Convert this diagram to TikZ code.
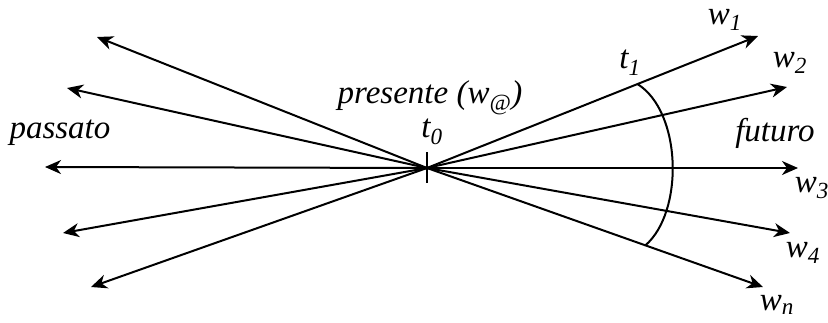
\documentclass[tikz,border=0pt]{standalone}
\usepackage{fontspec}
\newfontfamily\lblfont{Liberation Serif}
\newcommand\lbltxt[1]{{\fontsize{33}{36}\selectfont\lblfont\itshape #1}}
\usetikzlibrary{arrows.meta,calc}
\begin{document}
\begin{tikzpicture}[x=1pt,y=-1pt,
  ray/.style={line width=2pt,-{Stealth[length=16pt,width=14pt,inset=5pt]}},
  lbl/.style={inner sep=0pt}]
\useasboundingbox (0,0) rectangle (828,322);
\coordinate (o) at (427,168);
\coordinate (l1) at (97,37);
\coordinate (l2) at (67,88);
\coordinate (l3) at (45,167);
\coordinate (l4) at (63,233);
\coordinate (l5) at (91,287);
\coordinate (r1) at (758,36);
\coordinate (r2) at (787,87);
\coordinate (r3) at (798,168);
\coordinate (r4) at (790,233);
\coordinate (r5) at (763,287);
\foreach \c in {l1,l2,l3,l4,l5,r1,r2,r3,r4,r5} \draw[ray] (o) -- (\c);
\coordinate (ttop) at (427,152);
\coordinate (tbot) at (427,183);
\draw[line width=2pt] (ttop) -- (tbot);
\coordinate (a1) at ($(o)!0.636!(r1)$);
\coordinate (a2) at ($(o)!0.650!(r5)$);
\draw[line width=2pt] (a1) .. controls (682,112) and (684,212) .. (a2);
\node[lbl] (passato) at (60,133) {\lbltxt{passato}};
\node[lbl] (presente) at (430,98) {\lbltxt{presente (w\textsubscript{@})}};
\node[lbl] (t0) at (432,132) {\lbltxt{t\textsubscript{0}}};
\node[lbl] (t1) at (630,63) {\lbltxt{t\textsubscript{1}}};
\node[lbl] (w1) at (725,20) {\lbltxt{w\textsubscript{1}}};
\node[lbl] (w2) at (790,63) {\lbltxt{w\textsubscript{2}}};
\node[lbl] (futuro) at (775,133) {\lbltxt{futuro}};
\node[lbl] (w3) at (812,188) {\lbltxt{w\textsubscript{3}}};
\node[lbl] (w4) at (803,253) {\lbltxt{w\textsubscript{4}}};
\node[lbl] (wn) at (777,305) {\lbltxt{w\textsubscript{n}}};
\end{tikzpicture}
\end{document}
